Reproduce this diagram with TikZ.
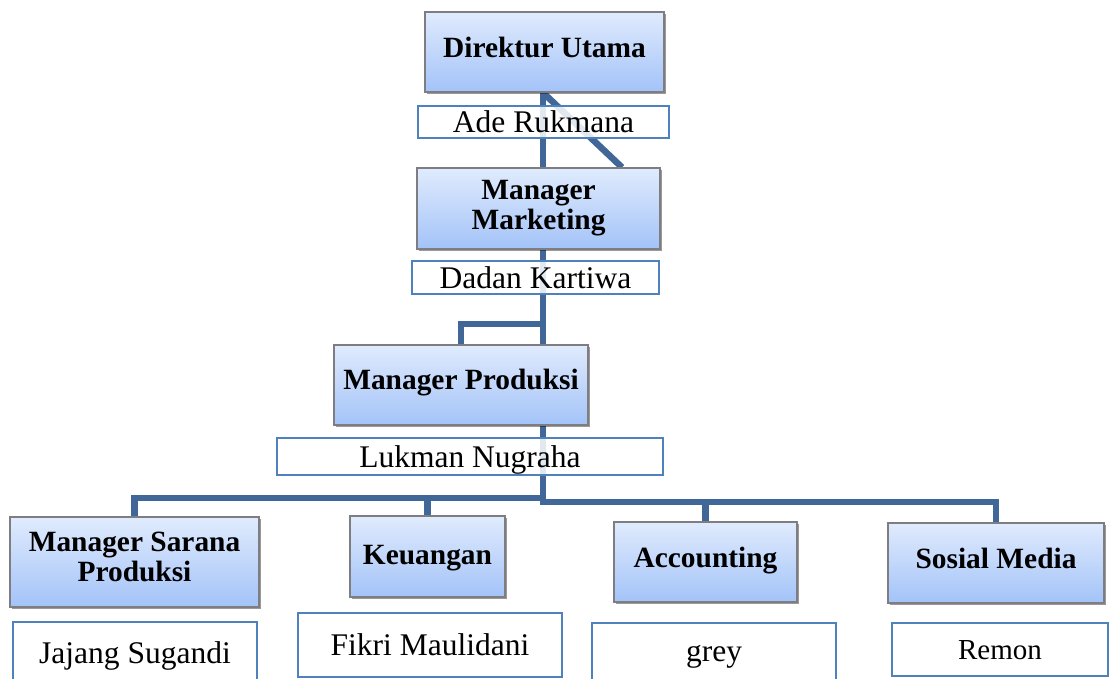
\documentclass[tikz,border=0pt]{standalone}
\usepackage{fontspec}
\setmainfont{Liberation Serif}
\usetikzlibrary{shadows,backgrounds,calc}
\definecolor{topc}{RGB}{224,235,253}
\definecolor{botc}{RGB}{163,195,248}
\definecolor{edgec}{RGB}{125,125,130}
\definecolor{linec}{RGB}{64,103,152}
\definecolor{namec}{RGB}{79,129,189}
\tikzset{
  role/.style={draw=edgec, line width=1.2pt, top color=topc, bottom color=botc,
    drop shadow={shadow xshift=1.5pt, shadow yshift=-2pt, fill=black, opacity=0.4},
    inner sep=0pt},
  rolet/.style={font=\fontsize{29.4}{30}\selectfont\bfseries, align=center, inner sep=0pt},
  person/.style={draw=namec, line width=1.5pt, fill=white, fill opacity=0.85, inner sep=0pt},
  persont/.style={font=\fontsize{31.5}{33}\selectfont, inner sep=0pt, text opacity=1},
  conn/.style={draw=linec, line width=6.5pt}
}
\begin{document}
\begin{tikzpicture}[x=1pt,y=-1pt]
\useasboundingbox (0,0) rectangle (1110,679);
% role boxes
\node[role, minimum width=239pt, minimum height=80pt, label={[rolet,yshift=5pt]center:Direktur Utama}] (dir) at (544.5,52) {};
\node[role, minimum width=243pt, minimum height=81pt, label={[rolet]center:Manager\\Marketing}] (mkt) at (538.5,208.5) {};
\node[role, minimum width=254pt, minimum height=80pt, label={[rolet,yshift=2pt]center:Manager Produksi}] (prod) at (461,385) {};
\node[role, minimum width=249pt, minimum height=90pt, label={[rolet,yshift=5pt]center:Manager Sarana\\Produksi}] (sarana) at (134.5,562) {};
\node[role, minimum width=155pt, minimum height=81pt, label={[rolet,yshift=-2pt]center:Keuangan}] (keu) at (427.5,556.5) {};
\node[role, minimum width=183pt, minimum height=80pt, label={[rolet,yshift=1pt]center:Accounting}] (acc) at (705.5,562) {};
\node[role, minimum width=216pt, minimum height=80pt, label={[rolet,yshift=5pt]center:Sosial Media}] (sos) at (996,563) {};
% name boxes
\node[person, minimum width=251pt, minimum height=32pt, label={[persont]center:Ade Rukmana}] (ade) at (543.5,122) {};
\node[person, minimum width=247pt, minimum height=33pt, label={[persont]center:Dadan Kartiwa}] (dadan) at (535.5,277.5) {};
\node[person, minimum width=386pt, minimum height=37pt, label={[persont,yshift=-3pt]center:Lukman Nugraha}] (lukman) at (470,456.5) {};
\node[person, minimum width=244pt, minimum height=60pt, label={[persont,yshift=-4pt]center:Jajang Sugandi}] (jajang) at (135,652) {};
\node[person, minimum width=264pt, minimum height=64pt, label={[persont]center:Fikri Maulidani}] (fikri) at (430,645) {};
\node[person, minimum width=244pt, minimum height=58pt, label={[persont,yshift=-5pt]center:grey}] (grey) at (714,652) {};
\node[person, minimum width=216pt, minimum height=53pt, label={[persont,font=\fontsize{29}{31}\selectfont,yshift=-1pt]center:Remon}] (remon) at (1000,649.5) {};
% coordinates
\coordinate (t) at (543,0);
\coordinate (diagend) at (622,0);
\coordinate (br) at (543,324);
\coordinate (hl) at (543,498);
\coordinate (hr) at (543,502);
\begin{pgfonlayer}{background}
\draw[conn] (dir.south -| t) -- (mkt.north -| t);
\draw[conn] (dir.south -| t) -- (mkt.north -| diagend);
\draw[conn] (mkt.south -| t) -- (prod.north -| t);
\draw[conn] (br) -| (prod.north);
\draw[conn] (prod.south -| t) -- ($(hr)+(0,3)$);
\draw[conn] (hl) -| (sarana.north);
\draw[conn] (keu.north |- hl) -- (keu.north);
\draw[conn] (hr) -| (sos.north);
\draw[conn] (acc.north |- hr) -- (acc.north);
\end{pgfonlayer}
\end{tikzpicture}
\end{document}
